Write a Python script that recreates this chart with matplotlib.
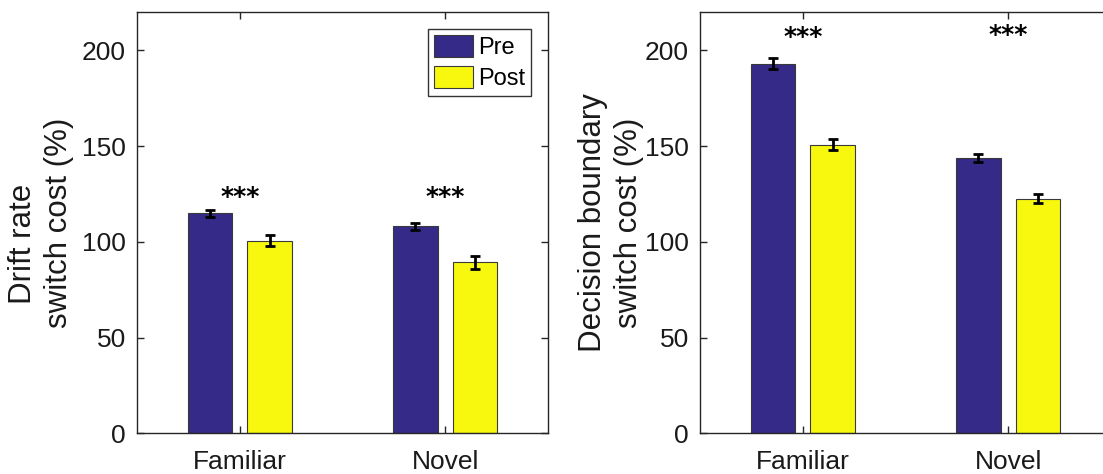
import matplotlib
matplotlib.use("Agg")
import matplotlib.pyplot as plt
import numpy as np

plt.rcParams['font.family'] = ['Liberation Sans', 'DejaVu Sans']

# Conditions and groups
categories = ["Familiar", "Novel"]
series = ["Pre", "Post"]

# Drift rate switch cost (%)
drift_pre = [114.8, 108.1]
drift_post = [100.5, 89.2]
drift_pre_err = [1.7, 1.8]
drift_post_err = [2.9, 3.2]

# Decision boundary switch cost (%)
bound_pre = [193.0, 143.6]
bound_post = [150.8, 122.6]
bound_pre_err = [2.9, 2.0]
bound_post_err = [2.7, 2.2]

sig_labels = ["***", "***"]
drift_sig_y = [126.5, 126.8]
bound_sig_y = [210.0, 211.0]

yticks = [0, 50, 100, 150, 200]

PRE_COLOR = "#352a87"
POST_COLOR = "#f8f80f"
AX_COLOR = "#262626"
TEXT_COLOR = "#1a1a1a"

W, H = 1103, 474
AX_W = 411
fig = plt.figure(figsize=(W / 100, H / 100), dpi=100)


def panel(left_px, pre, post, pre_err, post_err, sig_y, ylabel, label_x_px,
          legend):
    ax = fig.add_axes([left_px / W, (H - 433.3) / H, AX_W / W, 421.3 / H])
    x = np.arange(1, len(categories) + 1)
    bw = 0.215
    off = 0.145
    ax.bar(x - off, pre, bw, color=PRE_COLOR, edgecolor="#3a3a3a",
           linewidth=0.8, label=series[0], zorder=2)
    ax.bar(x + off, post, bw, color=POST_COLOR, edgecolor="#3a3a3a",
           linewidth=0.8, label=series[1], zorder=2)
    ek = dict(fmt="none", ecolor="black", elinewidth=2.0, capsize=3.4,
              capthick=2.0, zorder=3)
    ax.errorbar(x - off, pre, yerr=pre_err, **ek)
    ax.errorbar(x + off, post, yerr=post_err, **ek)
    for xi, yi, s in zip(x, sig_y, sig_labels):
        ax.annotate(s, (xi, yi), xytext=(0, -4.5), textcoords="offset points",
                    ha="center", va="center", fontsize=18, fontweight="bold",
                    color="black", family="DejaVu Sans")
    ax.set_xlim(0.5, 2.5)
    ax.set_ylim(0, 220)
    ax.set_xticks(x)
    ax.set_xticklabels(categories)
    ax.set_yticks(yticks)
    ax.tick_params(direction="in", length=5, width=1, colors=AX_COLOR,
                   labelsize=19, labelcolor=TEXT_COLOR,
                   top=True, right=True)
    ax.tick_params(axis="x", pad=12)
    ax.tick_params(axis="y", pad=8)
    for sp in ax.spines.values():
        sp.set_color(AX_COLOR)
        sp.set_linewidth(1.0)
    ax.set_ylabel(ylabel, fontsize=22.5, color=TEXT_COLOR, linespacing=1.27)
    ax.yaxis.set_label_coords((label_x_px - left_px) / AX_W, 0.5)
    if legend:
        leg = ax.legend(loc="upper right",
                        bbox_to_anchor=(1 - 17 / AX_W, 1 - 17 / 421),
                        fontsize=17, frameon=True, fancybox=False,
                        edgecolor="black", handlelength=1.65,
                        handleheight=1.06, handletextpad=0.2,
                        borderpad=0.26, labelspacing=0.28,
                        borderaxespad=0.0)
        leg.get_frame().set_linewidth(1.0)
    return ax


panel(137, drift_pre, drift_post, drift_pre_err, drift_post_err,
      drift_sig_y, "Drift rate     \nswitch cost (%)", 74, True)
panel(700, bound_pre, bound_post, bound_pre_err, bound_post_err,
      bound_sig_y, "Decision boundary\nswitch cost (%)", 644, False)

fig.savefig("out.png", dpi=100)
